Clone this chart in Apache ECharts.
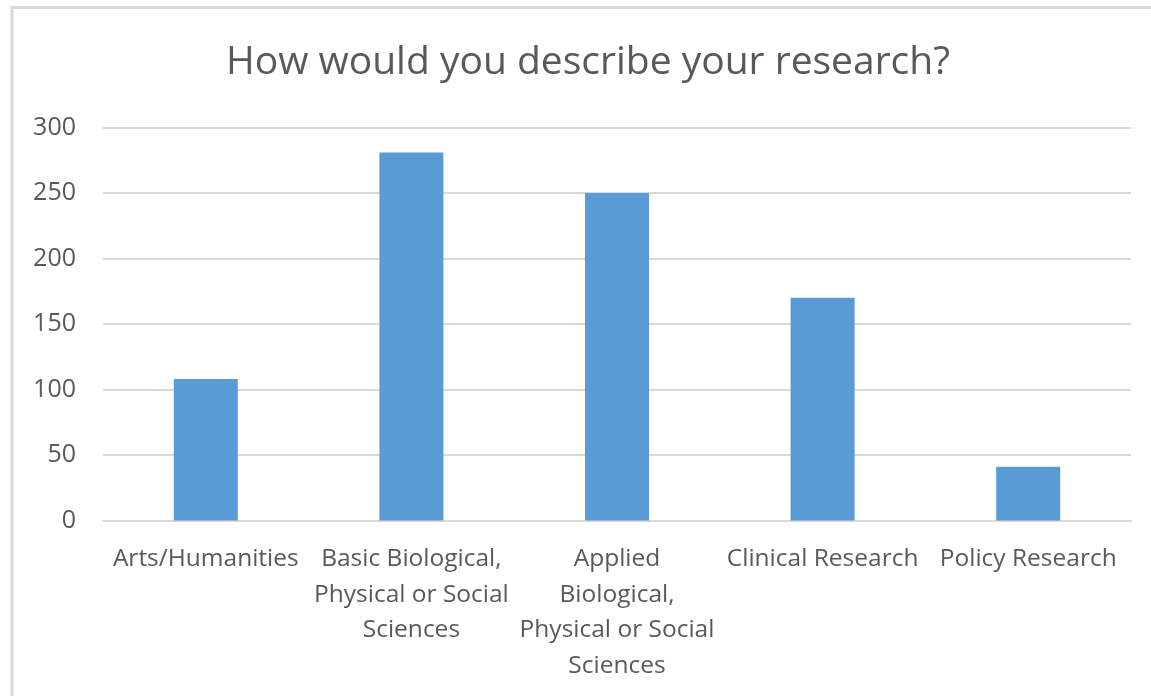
<!DOCTYPE html>
<html>
<head>
<meta charset="utf-8">
<script src="https://cdn.jsdelivr.net/npm/echarts@6/dist/echarts.min.js"></script>
<style>
html,body{margin:0;padding:0;background:#fff;}
#chart{width:1151px;height:696px;}
</style>
</head>
<body>
<div id="chart"></div>
<script>
const titleText = 'How would you describe your research?';
const categories = [
  'Arts/Humanities',
  'Basic Biological,\nPhysical or Social\nSciences',
  'Applied\nBiological,\nPhysical or Social\nSciences',
  'Clinical Research',
  'Policy Research'
];
const values = [108, 281, 250, 170, 41];
const yMin = 0, yMax = 300, yStep = 50;

const FONT = '"Open Sans", sans-serif';
const chart = echarts.init(document.getElementById('chart'));
chart.setOption({
  animation: false,
  backgroundColor: '#fff',
  grid: { left: 103, right: 20, top: 127.5, bottom: 175.5, containLabel: false },
  graphic: [
    { type: 'rect', shape: { x: 12, y: 7.5, width: 1200, height: 720 },
      style: { fill: 'none', stroke: '#d9d9d9', lineWidth: 3 }, silent: true },
    { type: 'text', x: 588, y: 63,
      style: { text: titleText, textAlign: 'center', textVerticalAlign: 'middle',
               fill: '#595959', font: '39px ' + FONT } }
  ],
  xAxis: {
    type: 'category',
    data: categories,
    axisLine: { show: true, lineStyle: { color: '#d9d9d9', width: 2 } },
    axisTick: { show: false },
    axisLabel: { color: '#595959', fontFamily: FONT, fontSize: 24.5, lineHeight: 35.5, margin: 21, interval: 0 }
  },
  yAxis: {
    type: 'value',
    min: yMin, max: yMax, interval: yStep,
    axisLine: { show: false },
    axisTick: { show: false },
    splitLine: { lineStyle: { color: '#d9d9d9', width: 2 } },
    axisLabel: { color: '#595959', fontFamily: FONT, fontSize: 25, margin: 27 }
  },
  series: [{
    type: 'bar',
    data: values,
    barWidth: 64,
    itemStyle: { color: '#5b9bd5' }
  }]
});
</script>
</body>
</html>
